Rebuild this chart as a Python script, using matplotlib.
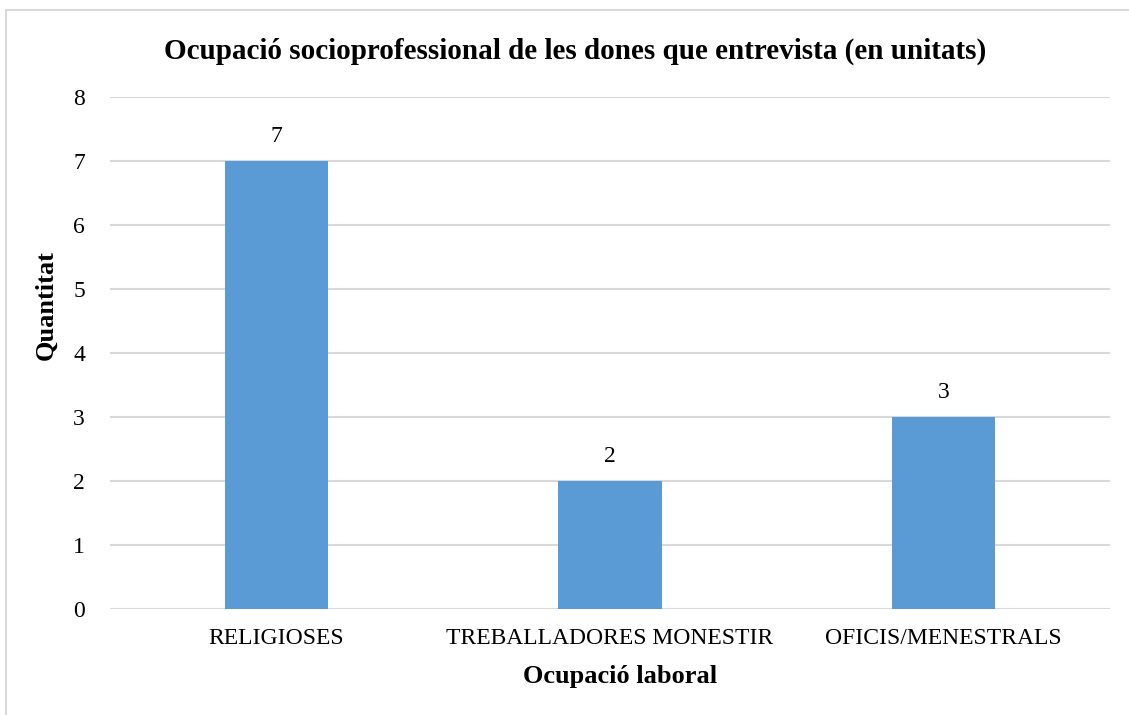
import matplotlib.pyplot as plt
from matplotlib.patches import Rectangle

# data
categories = ['RELIGIOSES', 'TREBALLADORES MONESTIR', 'OFICIS/MENESTRALS']
values = [7, 2, 3]
yticks = [0, 1, 2, 3, 4, 5, 6, 7, 8]

plt.rcParams['font.family'] = ['Liberation Serif', 'DejaVu Serif']

fig = plt.figure(figsize=(11.29, 7.15), dpi=100)
ax = fig.add_axes([110 / 1129, 1 - 609 / 715, 1000 / 1129, 512 / 715])

# light border round the chart area
fig.patches.append(Rectangle((6 / 1129, -0.05), 1.2, 1 - 10 / 715 + 0.05,
                             transform=fig.transFigure, fill=False,
                             edgecolor='#d9d9d9', linewidth=1.5))

bars = ax.bar(range(len(categories)), values, width=0.31, color='#5b9bd5', zorder=3)
ax.bar_label(bars, labels=[str(v) for v in values], padding=10, fontsize=17)

ax.set_xlim(-0.5, len(categories) - 0.5)
ax.set_ylim(0, 8)
ax.set_yticks(yticks)
ax.set_xticks(range(len(categories)))
ax.set_xticklabels(categories)
ax.tick_params(axis='both', length=0, labelsize=17)
ax.tick_params(axis='y', pad=18)
ax.tick_params(axis='x', pad=14)
ax.grid(axis='y', color='#d9d9d9', linewidth=1.5, zorder=0)
for s in ax.spines.values():
    s.set_visible(False)

fig.text(575 / 1129, 1 - 51 / 715, 'Ocupació socioprofessional de les dones que entrevista (en unitats)',
         ha='center', va='center', fontsize=21, fontweight='bold')
fig.text(620 / 1129, 1 - 677 / 715, 'Ocupació laboral', ha='center', va='center',
         fontsize=19, fontweight='bold')
fig.text(46 / 1129, 1 - 305 / 715, 'Quantitat', ha='center', va='center',
         fontsize=19, fontweight='bold', rotation=90)

fig.savefig('out.png', dpi=100)
